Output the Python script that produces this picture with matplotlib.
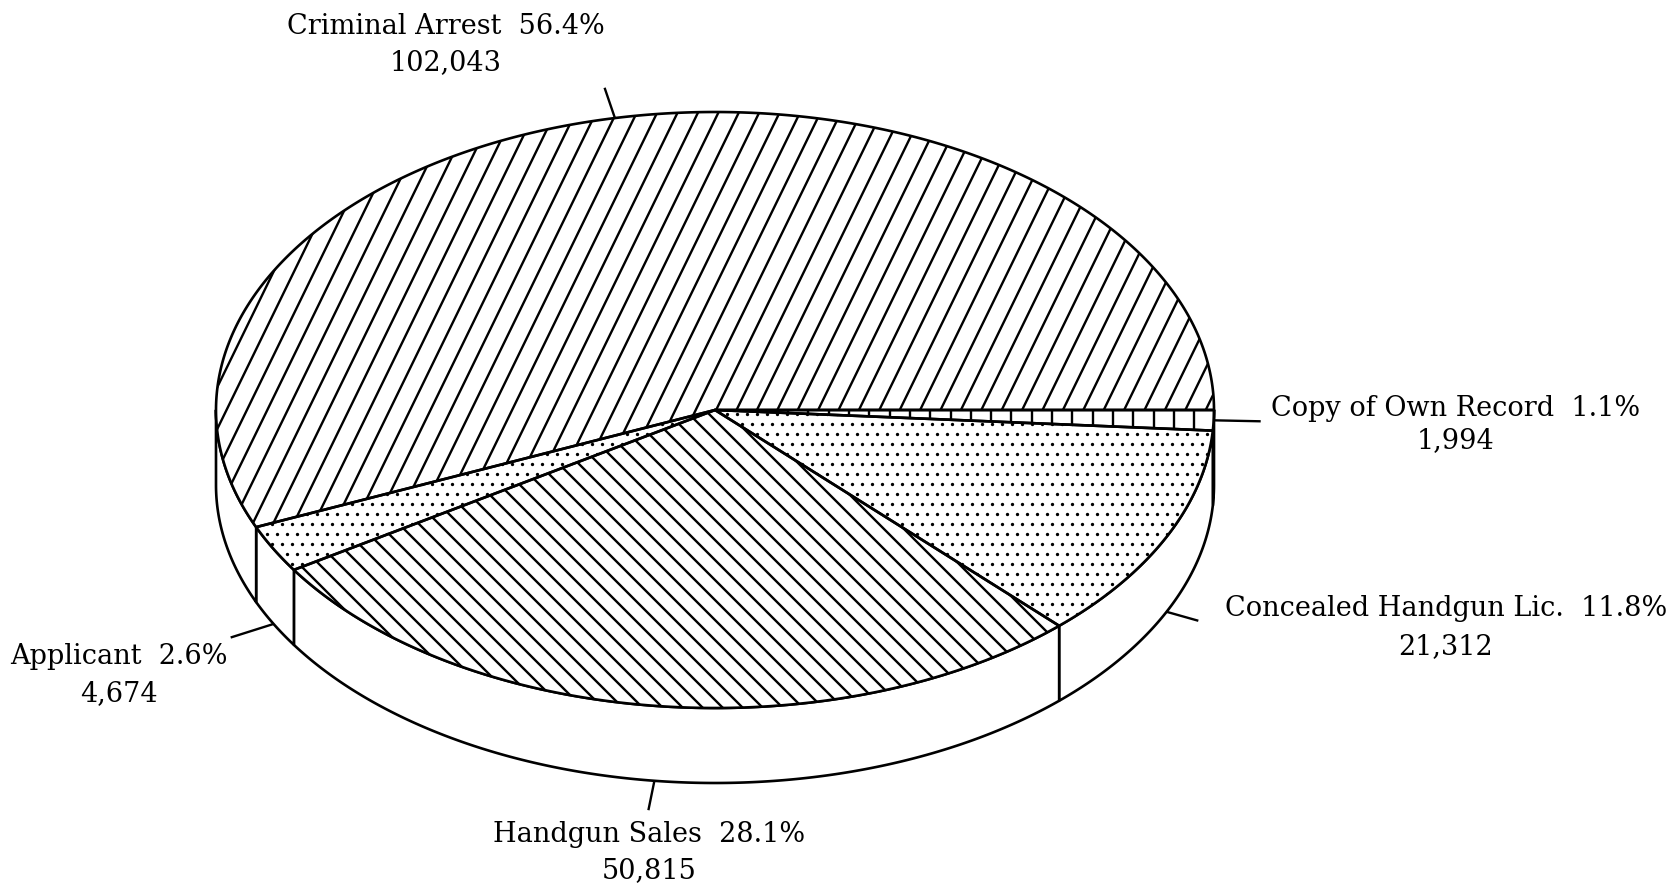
import numpy as np
import matplotlib
matplotlib.use("Agg")
import matplotlib.pyplot as plt
from matplotlib.patches import Polygon
from matplotlib.collections import LineCollection

# ---------------- data ----------------
categories = ["Copy of Own Record", "Concealed Handgun Lic.", "Handgun Sales",
              "Applicant", "Criminal Arrest"]
counts = [1994, 21312, 50815, 4674, 102043]

# ---------------- styles ----------------
fills = ["vline", "dots", "back", "dots", "fwd"]
leader_on_bottom = [False, True, True, True, False]
leader_len = [47, 33, 30, 45, 32]
# (x centre, y of line 1, y of line 2) in pixels
label_pos = [(1456, 408, 441), (1446, 608, 647), (649, 834, 871),
             (119, 657, 694), (446, 26, 63)]

W, H = 1677, 885
CX, CY, RX, RY, TH = 715, 410, 499, 298, 75
LW = 1.9
FONT = "DejaVu Serif"
FS = 19.5

fig = plt.figure(figsize=(W / 100, H / 100), dpi=100)
ax = fig.add_axes([0, 0, 1, 1])
ax.set_xlim(0, W)
ax.set_ylim(H, 0)
ax.axis("off")


def pt(t, dy=0.0):
    return CX + RX * np.cos(t), CY + RY * np.sin(t) + dy


def arc(a0, a1, dy=0.0, n=None):
    if n is None:
        n = max(4, int(abs(a1 - a0) / (2 * np.pi) * 720))
    t = np.linspace(a0, a1, n)
    return np.column_stack([CX + RX * np.cos(t), CY + RY * np.sin(t) + dy])


def hatch_segments(kind):
    segs = []
    if kind == "vline":
        for k in range(-80, 40):
            x = 1113 + k * 20.3
            segs.append([(x, -50), (x, H + 50)])
    elif kind == "fwd":
        tan_a = 2.05
        for k in range(-60, 120):
            xk = 313 + k * 20.4
            ya, yb = -50, H + 50
            segs.append([(xk + (400 - ya) / tan_a, ya), (xk + (400 - yb) / tan_a, yb)])
    elif kind == "back":
        for k in range(-90, 120):
            xk = 705 + k * 20.0
            ya, yb = -50, H + 50
            segs.append([(xk + (ya - 470), ya), (xk + (yb - 470), yb)])
    return segs


def dot_grid():
    xs, ys = [], []
    for j in range(-5, 95):
        y = 444 + (j - 44) * 10
        off = 5 if j % 2 else 0
        for i in range(-5, 175):
            xs.append(i * 10 + 2 + off)
            ys.append(y)
    return np.array(xs), np.array(ys)


total = float(sum(counts))
fracs = [c / total for c in counts]
bounds = np.concatenate([[0.0], np.cumsum(fracs)]) * 2 * np.pi

dgx, dgy = dot_grid()

for i, cat in enumerate(categories):
    a0, a1 = bounds[i], bounds[i + 1]
    # visible side (front half: 0..pi)
    s0, s1 = max(a0, 0.0), min(a1, np.pi)
    if s1 > s0:
        top = arc(s0, s1)
        bot = arc(s1, s0, dy=TH)
        side = Polygon(np.vstack([top, bot]), closed=True, facecolor="white",
                       edgecolor="black", lw=LW, joinstyle="round", zorder=1)
        ax.add_patch(side)
    # top face
    verts = np.vstack([[CX, CY], arc(a0, a1)])
    face = Polygon(verts, closed=True, facecolor="white", edgecolor="none", zorder=2)
    ax.add_patch(face)
    kind = fills[i]
    if kind == "dots":
        art, = ax.plot(dgx, dgy, "o", color="black", ms=2.4, mew=0, zorder=3)
        art.set_clip_path(face)
    else:
        lc = LineCollection(hatch_segments(kind), colors="black", linewidths=1.7, zorder=3)
        ax.add_collection(lc)
        lc.set_clip_path(face)
    outline = Polygon(verts, closed=True, facecolor="none", edgecolor="black",
                      lw=LW, joinstyle="round", zorder=4)
    ax.add_patch(outline)

    # leader line
    m = 0.5 * (a0 + a1)
    x0, y0 = pt(m, TH if leader_on_bottom[i] else 0.0)
    d = np.array([np.cos(m), 0.6 * np.sin(m)])
    d = d / np.hypot(*d)
    ax.plot([x0, x0 + d[0] * leader_len[i]], [y0, y0 + d[1] * leader_len[i]],
            color="black", lw=1.7, zorder=5, solid_capstyle="butt")

    # labels
    lx, ly1, ly2 = label_pos[i]
    ax.text(lx, ly1, f"{cat}  {fracs[i] * 100:.1f}%", ha="center", va="center",
            fontsize=FS, family=FONT, color="black")
    ax.text(lx, ly2, f"{counts[i]:,}", ha="center", va="center",
            fontsize=FS, family=FONT, color="black")

fig.savefig("out.png", dpi=100, facecolor="white")
